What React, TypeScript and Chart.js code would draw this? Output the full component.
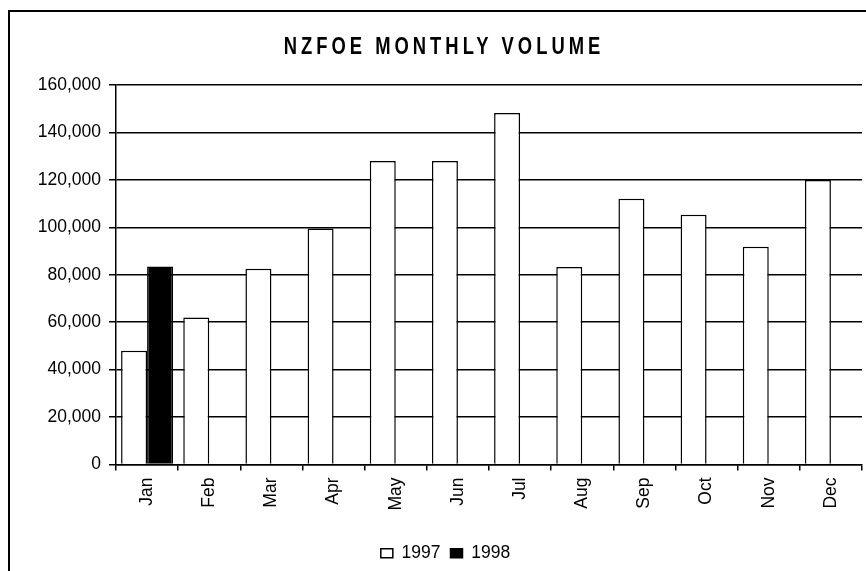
import React, { useEffect, useRef } from "react";
import { Chart, registerables } from "chart.js";

Chart.register(...registerables);

// ---- data ----
const months = ["Jan", "Feb", "Mar", "Apr", "May", "Jun", "Jul", "Aug", "Sep", "Oct", "Nov", "Dec"];
const volume1997 = [48000, 62000, 82500, 99500, 128000, 128000, 148200, 83300, 112000, 105300, 91800, 120000];
const volume1998: (number | null)[] = [83500, null, null, null, null, null, null, null, null, null, null, null];
const seriesNames = ["1997", "1998"];
const titleText = "NZFOE MONTHLY VOLUME";
const yMin = 0;
const yMax = 160000;
const yStep = 20000;

const FONT = "'Liberation Sans', Arial, sans-serif";

const titlePlugin = {
  id: "excelTitle",
  afterDraw(chart: any) {
    const ctx = chart.ctx as CanvasRenderingContext2D;
    ctx.save();
    ctx.fillStyle = "#000";
    ctx.font = `bold 23px ${FONT}`;
    ctx.textAlign = "center";
    ctx.textBaseline = "alphabetic";
    (ctx as any).letterSpacing = "5px";
    ctx.translate(434, 42);
    ctx.scale(0.8, 1.02);
    ctx.fillText(titleText, 0, 0);
    ctx.restore();
  },
};

export default function App() {
  const ref = useRef<HTMLCanvasElement | null>(null);

  useEffect(() => {
    if (!ref.current) return;
    const tickFont = { family: FONT, size: 17.5 };
    const chart = new Chart(ref.current, {
      type: "bar",
      data: {
        labels: months,
        datasets: [
          {
            label: seriesNames[0],
            data: volume1997,
            backgroundColor: "#ffffff",
            borderColor: "#000000",
            borderWidth: 1.5,
          },
          {
            label: seriesNames[1],
            data: volume1998,
            backgroundColor: "#000000",
            borderColor: "#000000",
            borderWidth: 1.5,
          },
        ],
      },
      options: {
        responsive: false,
        animation: false,
        devicePixelRatio: 1,
        layout: { padding: { left: 19, right: 18, top: 73, bottom: 0 } },
        datasets: {
          bar: { categoryPercentage: 0.836, barPercentage: 1 },
        },
        scales: {
          x: {
            grid: {
              display: true,
              offset: true,
              drawOnChartArea: false,
              drawTicks: true,
              tickLength: 6,
              color: "#000",
              lineWidth: 1.5,
            },
            border: { display: true, color: "#000", width: 1.5 },
            ticks: {
              autoSkip: false,
              minRotation: 90,
              maxRotation: 90,
              padding: 7,
              color: "#000",
              font: tickFont,
            },
            afterFit: (scale: any) => {
              scale.height = 70;
            },
          },
          y: {
            min: yMin,
            max: yMax,
            grid: {
              color: "#000",
              lineWidth: 1.5,
              drawTicks: true,
              tickLength: 7,
            },
            border: { display: true, color: "#000", width: 1.5 },
            ticks: {
              stepSize: yStep,
              padding: 8,
              color: "#000",
              font: tickFont,
            },
            afterFit: (scale: any) => {
              scale.width = 87;
            },
          },
        },
        plugins: {
          title: { display: false },
          tooltip: { enabled: false },
          legend: {
            display: true,
            position: "bottom",
            labels: {
              boxWidth: 12,
              boxHeight: 9,
              padding: 10,
              color: "#000",
              font: { family: FONT, size: 17.5 },
            },
          },
        },
      },
      plugins: [titlePlugin],
    });
    return () => chart.destroy();
  }, []);

  return (
    <div style={{ position: "fixed", left: 0, top: 0, width: 866, height: 571, overflow: "hidden", background: "#fff" }}>
      <div
        style={{
          position: "absolute",
          left: 8,
          top: 10,
          width: 900,
          height: 600,
          border: "2px solid #000",
        }}
      >
        <canvas ref={ref} width={870} height={560} style={{ position: "absolute", left: 0, top: 0, width: 870, height: 560 }} />
      </div>
    </div>
  );
}
